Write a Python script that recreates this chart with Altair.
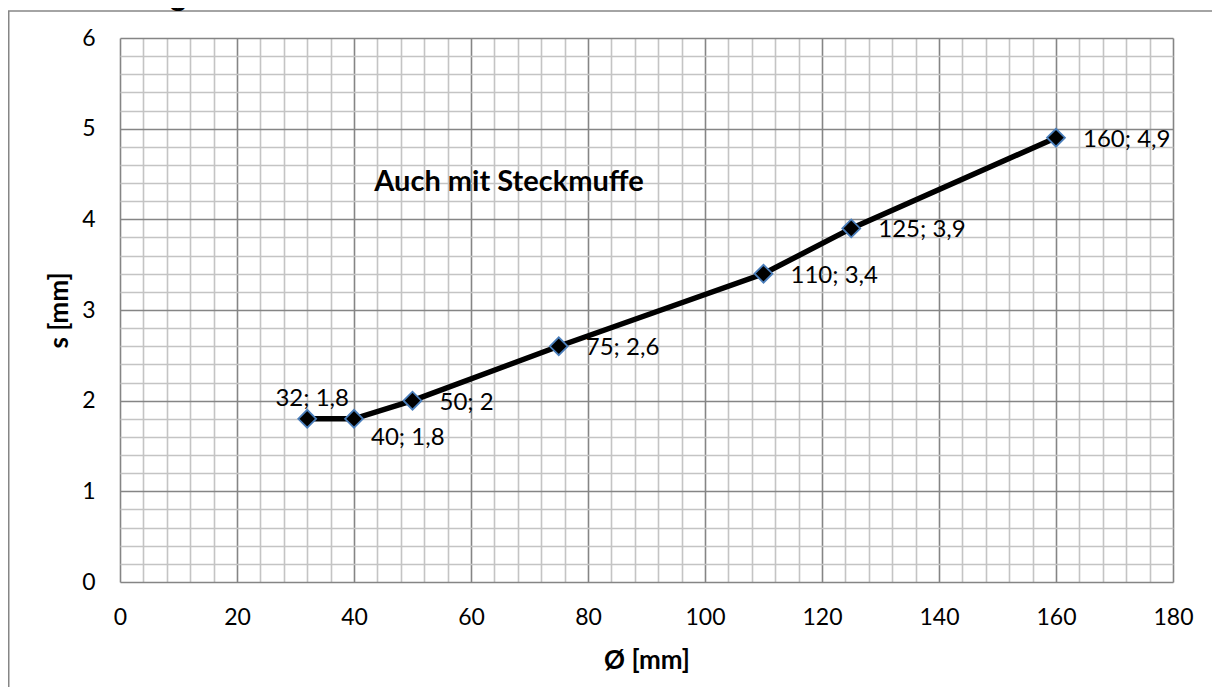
import altair as alt
import pandas as pd

# ---- data ----
title_text = "Anwendungsbereich PROMASTOP-C PU auf Mörtelschott-Decke"
diameters = [32, 40, 50, 75, 110, 125, 160]
thickness = [1.8, 1.8, 2.0, 2.6, 3.4, 3.9, 4.9]
label_pos = ["above", "below", "right", "right", "right", "right", "right"]
x_grid_values = list(range(0, 181, 4))
y_grid_values = [round(i * 0.2, 1) for i in range(31)]
annotation_text = ["Auch mit Steckmuffe"]
annotation_x = [66.5]
annotation_y = [4.41]
x_title = "Ø [mm]"
y_title = "s [mm]"


def fmt(v):
    return ("%g" % v).replace(".", ",")


labels = [f"{d}; {fmt(s)}" for d, s in zip(diameters, thickness)]
df = pd.DataFrame({"d": diameters, "s": thickness, "lab": labels, "pos": label_pos})
ann = pd.DataFrame({"d": annotation_x, "s": annotation_y, "t": annotation_text})
one = pd.DataFrame({"a": [0]})

W, H = 1053, 544
FONT = "Lato"
MAJOR = "#858585"
MINOR = "#c4c4c4"

x_axis = alt.Axis(
    values=x_grid_values,
    grid=True,
    gridColor={"condition": {"test": "datum.value % 20 === 0", "value": MAJOR}, "value": MINOR},
    gridWidth=1.6,
    ticks=False,
    domain=False,
    format="d",
    labelExpr="datum.value % 20 === 0 ? datum.label : ''",
    labelOverlap=False,
    labelFlush=False,
    labelBound=False,
    labelFont=FONT,
    labelFontSize=23,
    labelColor="black",
    labelBaseline="middle",
    labelPadding=35,
    title=x_title,
    titleFont=FONT,
    titleFontSize=26,
    titleFontWeight="bold",
    titleColor="black",
    titleBaseline="middle",
    titleAlign="center",
    titleX=W / 2,
    titleY=78,
)
y_axis = alt.Axis(
    values=y_grid_values,
    grid=True,
    gridColor={"condition": {"test": "datum.value % 1 === 0", "value": MAJOR}, "value": MINOR},
    gridWidth=1.6,
    ticks=False,
    domain=False,
    format=".0f",
    labelExpr="datum.value % 1 === 0 ? datum.label : ''",
    labelOverlap=False,
    labelFlush=False,
    labelBound=False,
    labelFont=FONT,
    labelFontSize=23,
    labelColor="black",
    labelPadding=25,
    title=y_title,
    titleFont=FONT,
    titleFontSize=26,
    titleFontWeight="bold",
    titleColor="black",
    titleAngle=270,
    titleBaseline="middle",
    titleAlign="center",
    titleX=-61,
    titleY=H / 2,
)

X = alt.X("d:Q", scale=alt.Scale(domain=[0, 180], nice=False), axis=x_axis)
Y = alt.Y("s:Q", scale=alt.Scale(domain=[0, 6], nice=False), axis=y_axis)

base = alt.Chart(df).encode(x=X, y=Y)

line = base.mark_line(color="black", strokeWidth=5.5)
points = base.mark_point(
    shape="diamond", fill="black", fillOpacity=1, stroke="#4a7ebb",
    strokeWidth=1.8, size=320, opacity=1,
)
txt_kw = dict(font=FONT, fontSize=24, color="black")
lab_right = base.transform_filter("datum.pos === 'right'").mark_text(
    align="left", baseline="middle", dx=27, dy=2, **txt_kw
).encode(text="lab:N")
lab_above = base.transform_filter("datum.pos === 'above'").mark_text(
    align="center", baseline="middle", dx=5, dy=-20, **txt_kw
).encode(text="lab:N")
lab_below = base.transform_filter("datum.pos === 'below'").mark_text(
    align="left", baseline="middle", dx=17, dy=19, **txt_kw
).encode(text="lab:N")

annot = alt.Chart(ann).mark_text(
    align="center", baseline="middle", font=FONT, fontSize=29, fontWeight="bold", color="black"
).encode(x=X, y=Y, text="t:N")

frame_top = alt.Chart(one).mark_rule(color="#868686", strokeWidth=1.5).encode(
    x=alt.value(-112), x2=alt.value(1092), y=alt.value(-27)
)
frame_left = alt.Chart(one).mark_rule(color="#868686", strokeWidth=2).encode(
    x=alt.value(-111.5), y=alt.value(-27), y2=alt.value(649)
)
title = alt.Chart(one).mark_text(
    align="left", baseline="alphabetic", font="Liberation Sans", fontSize=32,
    fontWeight="bold", color="black",
).encode(x=alt.value(-115), y=alt.value(-34), text=alt.value(title_text))

chart = alt.layer(
    line, points, lab_right, lab_above, lab_below, annot, frame_top, frame_left, title
).properties(
    width=W, height=H,
    autosize=alt.AutoSizeParams(type="none"),
    padding={"left": 112, "top": 30, "right": 39, "bottom": 105},
    background="white",
).configure_view(stroke=None)

chart.save("out.html", embed_options={"renderer": "svg", "actions": False})
